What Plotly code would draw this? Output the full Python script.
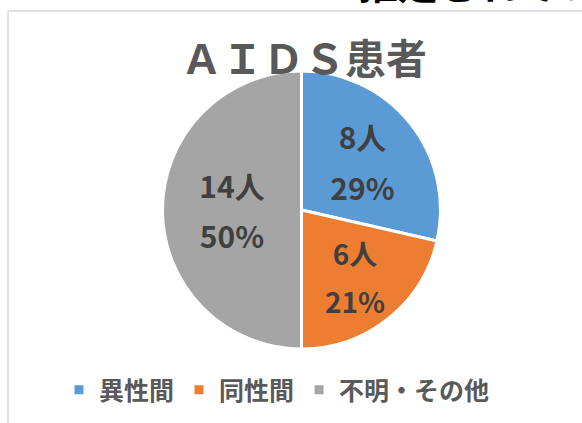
import plotly.graph_objects as go

categories = ["異性間", "同性間", "不明・その他"]
counts = [8, 6, 14]
colors = ["#5B9BD5", "#ED7D31", "#A5A5A5"]
title_text = "ＡＩＤＳ患者"
top_text = "推定されている"

W, H = 582, 423
FONT = "Noto Sans CJK JP"

def px_x(v):
    return v / W

def px_y(v):
    return 1 - v / H

label_tpl = ("<span style='font-size:30px'>%{value}人</span><br>"
             "<span style='font-size:30px'>%{percent:.0%}</span>")

fig = go.Figure(go.Pie(
    labels=categories,
    values=counts,
    sort=False,
    direction="clockwise",
    rotation=0,
    marker=dict(colors=colors, line=dict(color="white", width=3)),
    texttemplate=label_tpl,
    textposition="inside",
    insidetextorientation="horizontal",
    textfont=dict(family=FONT, size=39, color="#404040", weight="bold"),
    hoverinfo="label+value+percent",
    domain=dict(x=[px_x(162.5), px_x(440.5)], y=[px_y(349), px_y(71)]),
))

fig.update_layout(
    width=W, height=H,
    margin=dict(l=0, r=0, t=0, b=0, autoexpand=False),
    paper_bgcolor="white",
    plot_bgcolor="white",
    font=dict(family=FONT, color="#595959"),
    title=dict(text=title_text, x=px_x(304), y=px_y(60), xanchor="center", yanchor="middle",
               font=dict(family=FONT, size=41, color="#595959", weight="bold")),
    showlegend=True,
    legend=dict(orientation="h", x=px_x(277), xanchor="center", y=px_y(390), yanchor="middle",
                font=dict(family=FONT, size=25, color="#595959", weight="bold"),
                itemclick=False, itemdoubleclick=False),
    shapes=[
        dict(type="line", xref="paper", yref="paper", x0=px_x(8), x1=1.0, y0=px_y(11), y1=px_y(11),
             line=dict(color="#D9D9D9", width=1.5)),
        dict(type="line", xref="paper", yref="paper", x0=px_x(8), x1=px_x(8), y0=px_y(11), y1=0,
             line=dict(color="#D9D9D9", width=1.5)),
    ],
    annotations=[
        dict(text=top_text, xref="paper", yref="paper", x=px_x(356), y=px_y(13),
             xanchor="left", yanchor="bottom", showarrow=False,
             font=dict(family=FONT, size=40, color="#000000", weight="bold")),
    ],
)

fig.write_html(
    "out.html",
    config={"displayModeBar": False},
    post_script="document.documentElement.style.margin='0';document.body.style.margin='0';"
                "document.body.style.overflow='hidden';",
)
